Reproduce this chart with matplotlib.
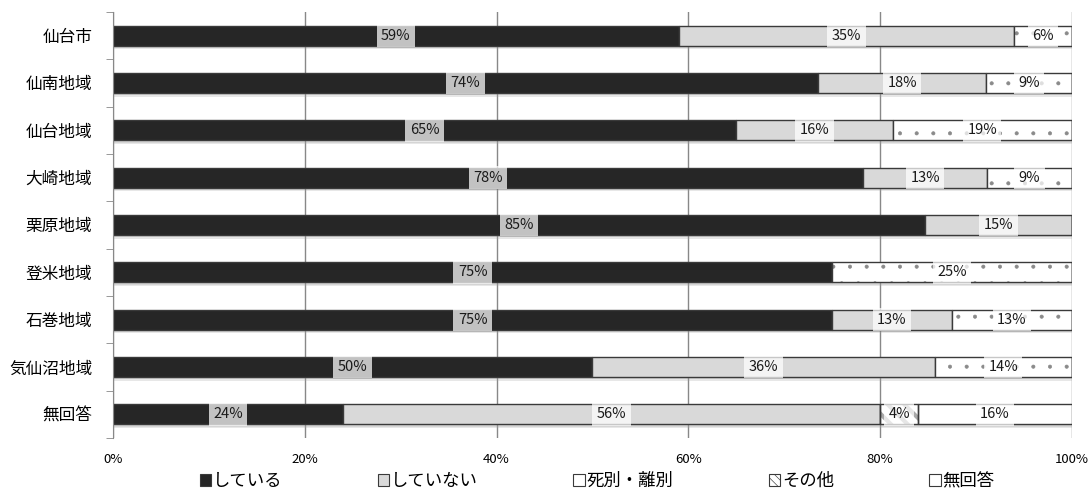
import matplotlib
matplotlib.use("Agg")
import matplotlib.pyplot as plt
import numpy as np
from matplotlib.patches import Patch

plt.rcParams['font.family'] = ['Noto Sans CJK JP', 'DejaVu Sans']
plt.rcParams['hatch.linewidth'] = 0.45

categories = ['仙台市', '仙南地域', '仙台地域', '大崎地域', '栗原地域',
              '登米地域', '石巻地域', '気仙沼地域', '無回答']
series_names = ['している', 'していない', '死別・離別', 'その他', '無回答']
doing = [59.0, 73.5, 65.0, 78.2, 84.7, 75.0, 75.0, 50.0, 24.0]
not_doing = [35.0, 17.6, 16.3, 13.0, 15.3, 0.0, 12.5, 35.7, 56.0]
bereaved = [6.0, 8.9, 18.7, 8.8, 0.0, 25.0, 12.5, 14.3, 0.0]
other = [0.0, 0.0, 0.0, 0.0, 0.0, 0.0, 0.0, 0.0, 4.0]
no_answer = [0.0, 0.0, 0.0, 0.0, 0.0, 0.0, 0.0, 0.0, 16.0]
xticks = [0, 20, 40, 60, 80, 100]
xticklabels = ['0%', '20%', '40%', '60%', '80%', '100%']

series = [doing, not_doing, bereaved, other, no_answer]
facecolors = ['#262626', '#d9d9d9', 'white', 'white', 'white']
hatches = [None, None, '.', '\\\\', None]
hatchcolors = [None, None, '#8a8a8a', '#a8a8a8', None]
hatchwidths = [None, None, 0.45, 3.0, None]

fig = plt.figure(figsize=(10.92, 4.91), dpi=100)
ax = fig.add_axes([0.1035, 0.108, 0.878, 0.8676])

y = np.arange(len(categories))
h = 0.42
totals = np.sum(np.array(series), axis=0)

# soft drop shadow
ax.barh(y + 0.08, totals, height=h, color='#a0a0a0', alpha=0.25, zorder=1, linewidth=0)
ax.barh(y + 0.05, totals, height=h, color='#a0a0a0', alpha=0.25, zorder=1, linewidth=0)

left = np.zeros(len(categories))
for vals, fc, ht, hc, hw in zip(series, facecolors, hatches, hatchcolors, hatchwidths):
    vals = np.array(vals)
    if ht is None:
        ax.barh(y, vals, left=left, height=h, color=fc, edgecolor='#3a3a3a',
                linewidth=1.0, zorder=2)
    else:
        bars = ax.barh(y, vals, left=left, height=h, color=fc, edgecolor=hc,
                       linewidth=0, hatch=ht, zorder=2)
        for b in bars:
            try:
                b.set_hatch_linewidth(hw)
            except AttributeError:
                pass
        ax.barh(y, vals, left=left, height=h, fill=False, edgecolor='#3a3a3a',
                linewidth=1.0, zorder=2.5)
    for yi, (l, v) in enumerate(zip(left, vals)):
        if v > 0:
            ax.text(l + v / 2, yi, f'{int(v + 0.5)}%', ha='center', va='center',
                    fontsize=10.5, color='#1a1a1a', zorder=4,
                    bbox=dict(boxstyle='square,pad=0.3', facecolor='white',
                              alpha=0.72, edgecolor='none'))
    left = left + vals

ax.set_xlim(0, 100)
ax.set_ylim(len(categories) - 0.5, -0.5)
ax.set_xticks(xticks)
ax.set_xticklabels(xticklabels, fontsize=9.5)
ax.tick_params(axis='x', length=0, pad=11)
ax.set_yticks(y)
ax.set_yticklabels(categories, fontsize=12)
ax.tick_params(axis='y', length=0, pad=15)
ax.set_yticks(np.arange(len(categories) + 1) - 0.5, minor=True)
ax.tick_params(axis='y', which='minor', length=5, color='#888888')
for s in ['top', 'right', 'bottom']:
    ax.spines[s].set_visible(False)
ax.spines['left'].set_color('#888888')
ax.xaxis.grid(True, color='#888888', linewidth=1.0, zorder=0)
ax.set_axisbelow(True)

legend_hatches = [None, None, None, '\\\\\\\\', None]
handles = [Patch(facecolor=fc, edgecolor='#3a3a3a', hatch=ht, linewidth=0.8)
           for fc, ht in zip(facecolors, legend_hatches)]
fig.legend(handles, series_names, loc='center', bbox_to_anchor=(0.547, 0.02),
           ncol=5, frameon=False, fontsize=12.5, handlelength=0.65, handleheight=0.65,
           handletextpad=0.1, columnspacing=5.5)

fig.savefig('out.png', dpi=100)
